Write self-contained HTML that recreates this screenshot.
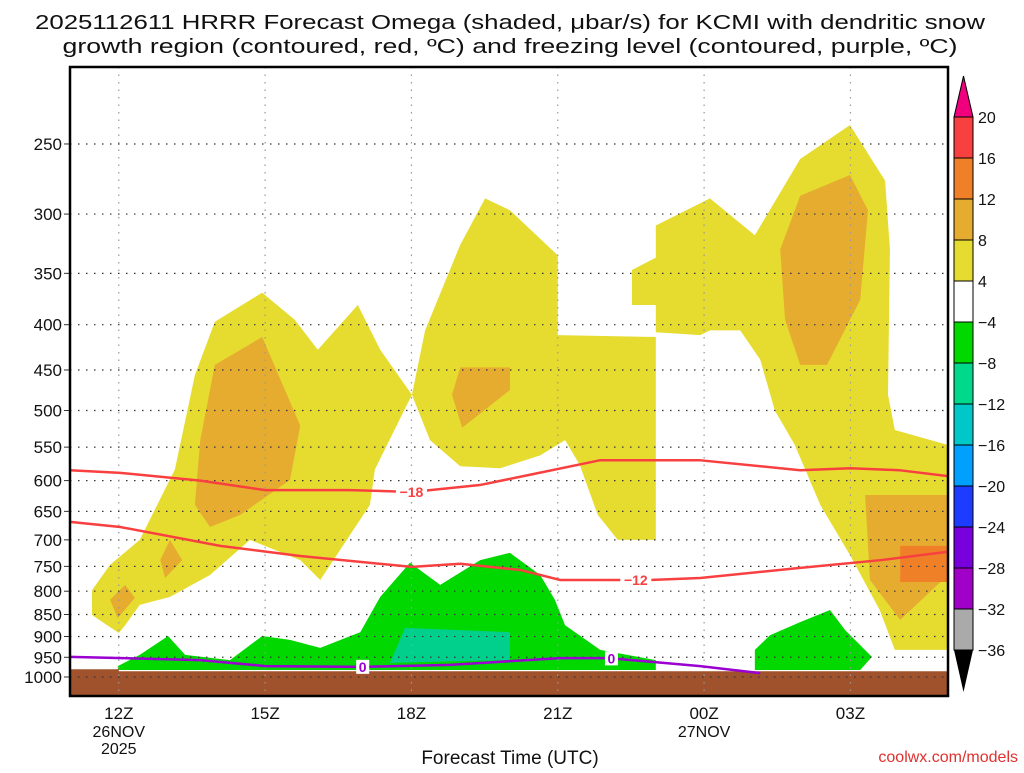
<!DOCTYPE html>
<html><head><meta charset="utf-8"><style>
body{margin:0;background:#fff}
svg text{font-family:"Liberation Sans","DejaVu Sans",sans-serif;fill:#111}
</style></head><body>
<svg id="c" width="1024" height="768" xmlns="http://www.w3.org/2000/svg">
<text x="510" y="29" text-anchor="middle" font-size="20" textLength="950" lengthAdjust="spacingAndGlyphs">2025112611 HRRR Forecast Omega (shaded, μbar/s) for KCMI with dendritic snow</text>
<text x="510" y="53" text-anchor="middle" font-size="20" textLength="895" lengthAdjust="spacingAndGlyphs">growth region (contoured, red, ºC) and freezing level (contoured, purple, ºC)</text>
<text x="510" y="764" text-anchor="middle" font-size="19">Forecast Time (UTC)</text>
<text x="1018" y="762" text-anchor="end" font-size="16" style="fill:#e03030">coolwx.com/models</text>
<g id="plot"></g>
</svg>
<script>
const pTicks=[250,300,350,400,450,500,550,600,650,700,750,800,850,900,950,1000];
const tHours=[12,15,18,21,24,27];
const tLabels=["12Z","15Z","18Z","21Z","00Z","03Z"];
const tSub=[["26NOV","2025"],[],[],[],["27NOV"],[]];
const yellowA=[[12.0,892],[11.45,851],[11.45,798],[11.82,747],[12.43,700],[13.15,583],[13.56,456],[13.97,397],[14.94,368],[15.61,395],[16.08,427],[16.9,380],[17.36,427],[18.01,480],[17.25,583],[17.15,639],[16.13,777],[15.72,738],[14.69,700],[13.87,767],[13.05,812],[12.43,829],[12.13,874]];
const yellowB=[[18.01,480],[18.28,406],[19.0,325],[19.51,288],[20.02,297],[21.0,334],[21.0,411],[23.01,413],[23.01,700],[22.23,700],[21.82,656],[21.45,576],[21.15,540],[20.64,562],[19.82,581],[19.0,578],[18.38,540]];
const yellowC=[[22.52,380],[22.52,347],[23.01,336],[23.01,309],[24.12,288],[25.04,317],[25.97,260],[26.99,238],[27.71,275],[27.81,329],[27.77,480],[27.91,526],[29,547],[29,932],[27.91,932],[27.6,840],[26.99,728],[26.38,639],[25.86,547],[25.45,500],[25.15,438],[24.74,406],[24.12,406],[23.92,411],[23.01,408],[23.01,380]];
const orangeA=[[13.56,639],[13.67,540],[13.97,444],[14.94,413],[15.72,520],[15.51,599],[14.49,656],[13.87,677]];
const orangeB=[[12.85,738],[13.05,700],[13.3,738],[12.95,773]];
const orangeC=[[11.82,818],[12.13,787],[12.33,814],[11.98,858]];
const orangeD=[[18.83,480],[19.0,447],[20.02,447],[20.02,474],[19.04,523]];
const orangeE=[[25.56,329],[25.97,286],[26.99,271],[27.36,297],[27.2,375],[26.52,444],[25.97,444],[25.66,395]];
const orangeF=[[27.3,623],[29,623],[29,767],[28.02,862],[27.4,777]];
const darkOrangeA=[[28.02,711],[29,711],[29,781],[28.02,781]];
const greenA=[[11.98,972],[12.43,944],[13.01,899],[13.36,944],[14.28,957],[14.94,899],[15.51,908],[16.13,927],[16.95,890],[17.36,812],[17.97,743],[18.59,787],[19.41,738],[20.02,724],[20.64,767],[20.94,818],[21.15,874],[21.87,932],[23.01,957],[23.01,982],[11.98,982]];
const greenB=[[25.04,932],[25.35,897],[25.97,867],[26.58,840],[26.89,885],[27.44,949],[27.2,982],[25.04,982]];
const tealA=[[17.56,964],[17.87,880],[20.02,890],[20.02,957],[19.2,959]];
const groundA=[[11,980],[12,980],[12,985],[29,985],[29,1060],[11,1060]];
const m18Hours=[11,12.03,13.67,15,16.74,18.01,19.4,20.43,21.87,23.9,25.97,27,28,29];
const m18P=[584,588,600,615,615,618,607,591,569,569,584,581,584,593];
const m12Hours=[11,12.03,14.08,15.72,18.01,19,20.23,21.05,22.89,23.92,25.97,27.61,29];
const m12P=[668,677,711,730,751,745,757,777,777,773,753,738,722];
const zHours=[11,13.67,15,16.99,18.79,21.05,22.03,23.92,25.15];
const zP=[949,957,972,974,969,952,952,972,990];
const cbLabels=["20","16","12","8","4","−4","−8","−12","−16","−20","−24","−28","−32","−36"];
const cbColors=["#f84040","#f08028","#e6ac30","#e6dc30","#ffffff","#00d800","#00d88c","#00c8c8","#00a0ff","#1e3cff","#7800dc","#a000c8","#aaaaaa"];

const L=70,R=948,T=67,B=696,H0=11,H1=29;
const X=h=>L+(h-H0)*(R-L)/(H1-H0);
const Y=p=>677-384.5*Math.log(1000/p);
const NS="http://www.w3.org/2000/svg";
const g=document.getElementById('plot');
function mk(tag,at,parent){const e=document.createElementNS(NS,tag);for(const k in at)e.setAttribute(k,at[k]);(parent||g).appendChild(e);return e;}
const defs=mk('defs',{});
const cp=mk('clipPath',{id:'clip'},defs);mk('rect',{x:L,y:T,width:R-L,height:B-T},cp);
const sh=mk('g',{'clip-path':'url(#clip)'});
function poly(arr,fill,name){const e=mk('polygon',{points:arr.map(a=>X(a[0])+','+Y(a[1])).join(' '),fill:fill},sh);

}
poly(yellowA,'#e6dc30','omega-4-8-left');poly(yellowB,'#e6dc30','omega-4-8-middle');poly(yellowC,'#e6dc30','omega-4-8-right');
poly(orangeA,'#e6ac30','omega-8-12-a');poly(orangeB,'#e6ac30','omega-8-12-b');poly(orangeC,'#e6ac30','omega-8-12-c');poly(orangeD,'#e6ac30','omega-8-12-d');poly(orangeE,'#e6ac30','omega-8-12-e');poly(orangeF,'#e6ac30','omega-8-12-f');
poly(darkOrangeA,'#f08028','omega-12-16');
poly(greenA,'#00d800','omega-neg4-left');poly(greenB,'#00d800','omega-neg4-right');poly(tealA,'#00d08c','omega-neg8');
poly(groundA,'#a0522d','ground');
pTicks.forEach(p=>{const y=Y(p);
const ln=mk('line',{x1:L,x2:R,y1:y,y2:y,stroke:'#333','stroke-width':1.2,'stroke-dasharray':'1.5 6.5'});


mk('line',{x1:L-6,x2:L,y1:y,y2:y,stroke:'#333'});
const t=mk('text',{x:L-8,y:y+6,'text-anchor':'end','font-size':17});t.textContent=p;

});
tHours.forEach((h,i)=>{const x=X(h);
const ln=mk('line',{x1:x,x2:x,y1:T,y2:B,stroke:'#999','stroke-width':1.2,'stroke-dasharray':'1.5 6'});


const t=mk('text',{x:x,y:719,'text-anchor':'middle','font-size':17});t.textContent=tLabels[i];


tSub[i].forEach((s,j)=>{const u=mk('text',{x:x,y:737+j*17,'text-anchor':'middle','font-size':16});u.textContent=s;

});});
function line(hs,ps,col,name,labels,lab){
const d=hs.map((h,i)=>(i?'L':'M')+X(h)+','+Y(ps[i])).join(' ');
const e=mk('path',{d:d,fill:'none',stroke:col,'stroke-width':2.5,'clip-path':'url(#clip)'});


labels.forEach(h=>{let k=0;while(k<hs.length-2&&hs[k+1]<h)k++;const f=(h-hs[k])/(hs[k+1]-hs[k]);const p=ps[k]+f*(ps[k+1]-ps[k]);
const w=lab.length*9+4;
mk('rect',{x:X(h)-w/2,y:Y(p)-7,width:w,height:14,fill:'#fff'});
const t=mk('text',{x:X(h),y:Y(p)+5,'text-anchor':'middle','font-size':14,'font-weight':'bold',style:'fill:'+col});
t.textContent=lab;

});}
line(m18Hours,m18P,'#f84040','contour-minus18',[18],'−18');
line(m12Hours,m12P,'#f84040','contour-minus12',[22.6],'−12');
line(zHours,zP,'#9a00d0','freezing-level-0',[17,22.1],'0');
const fr=mk('rect',{x:L,y:T,width:R-L,height:B-T,fill:'none',stroke:'#000','stroke-width':2.5});


const cx=954,cw=19,cy0=117,ch=41;
const up=mk('polygon',{points:`${cx},${cy0} ${cx+cw},${cy0} ${cx+cw/2},76`,fill:'#f0007c',stroke:'#000'});


cbColors.forEach((c,i)=>{const r=mk('rect',{x:cx,y:cy0+i*ch,width:cw,height:ch,fill:c,stroke:'#000','stroke-width':1});

});
const dn=mk('polygon',{points:`${cx},${cy0+13*ch} ${cx+cw},${cy0+13*ch} ${cx+cw/2},692`,fill:'#000'});


cbLabels.forEach((s,i)=>{const t=mk('text',{x:978,y:cy0+i*ch+6,'font-size':16});t.textContent=s;

});
</script>
</body></html>
